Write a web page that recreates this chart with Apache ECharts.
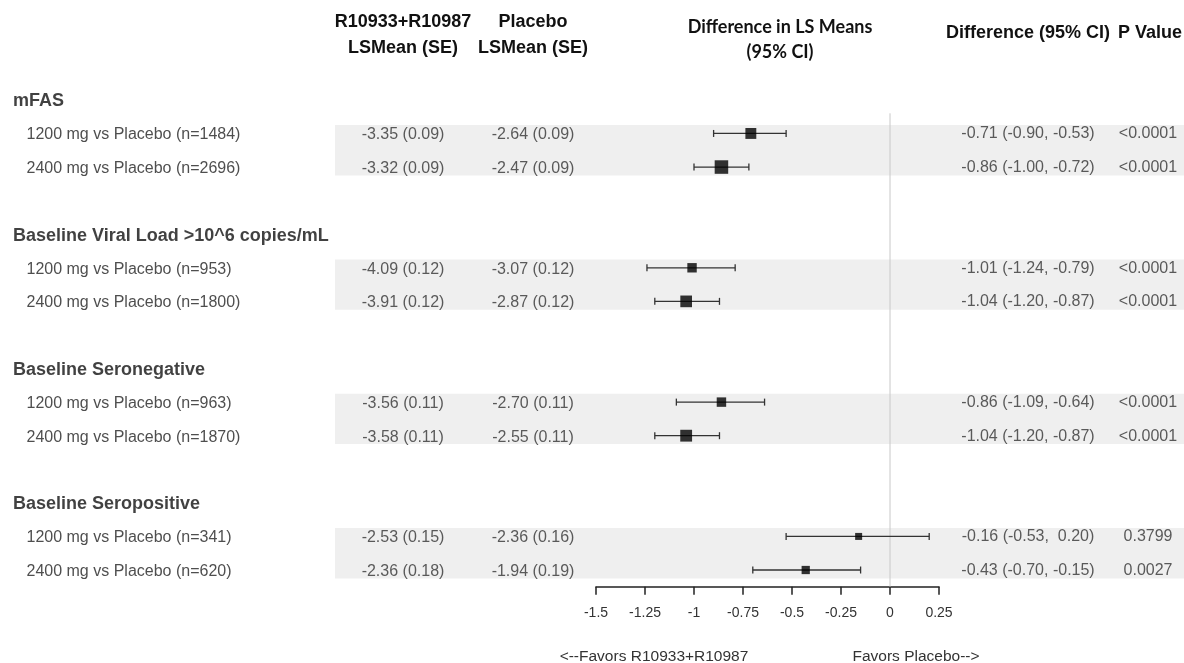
<!DOCTYPE html>
<html><head><meta charset="utf-8">
<script src="https://cdn.jsdelivr.net/npm/echarts@6/dist/echarts.min.js"></script>
<style>html,body{margin:0;padding:0;background:#fff}#c{width:1184px;height:663px}</style>
</head><body><div id="c"></div>
<script>
// ---------------- data ----------------
const groups = ['mFAS', 'Baseline Viral Load >10^6 copies/mL', 'Baseline Seronegative', 'Baseline Seropositive'];
const comparisons = ['1200 mg vs Placebo', '2400 mg vs Placebo', '1200 mg vs Placebo', '2400 mg vs Placebo',
                     '1200 mg vs Placebo', '2400 mg vs Placebo', '1200 mg vs Placebo', '2400 mg vs Placebo'];
const nValues = [1484, 2696, 953, 1800, 963, 1870, 341, 620];
const trtMean = [-3.35, -3.32, -4.09, -3.91, -3.56, -3.58, -2.53, -2.36];
const trtSE   = [0.09, 0.09, 0.12, 0.12, 0.11, 0.11, 0.15, 0.18];
const pboMean = [-2.64, -2.47, -3.07, -2.87, -2.70, -2.55, -2.36, -1.94];
const pboSE   = [0.09, 0.09, 0.12, 0.12, 0.11, 0.11, 0.16, 0.19];
const diffMean = [-0.71, -0.86, -1.01, -1.04, -0.86, -1.04, -0.16, -0.43];
const diffLow  = [-0.90, -1.00, -1.24, -1.20, -1.09, -1.20, -0.53, -0.70];
const diffHigh = [-0.53, -0.72, -0.79, -0.87, -0.64, -0.87, 0.20, -0.15];
const pValues = ['<0.0001', '<0.0001', '<0.0001', '<0.0001', '<0.0001', '<0.0001', '0.3799', '0.0027'];
const columnHeaders = [['R10933+R10987', 'LSMean (SE)'], ['Placebo', 'LSMean (SE)'],
                       ['Difference in LS Means', '(95% CI)'], ['Difference (95% CI)'], ['P Value']];
const favorsLabels = ['<--Favors R10933+R10987', 'Favors Placebo-->'];
const xMin = -1.5, xMax = 0.25, xStep = 0.25;

// ---------------- layout ----------------
const ARIAL = '"Liberation Sans", Arial, sans-serif';
const CALI = 'Lato, "Open Sans", sans-serif';
const TOP = 66.3, BOTTOM = 76.2, YMIN = -1, YMAX = 14.5;
const cols = [
  { left: 335, right: 0 },      // 0 background bands
  { left: 13, width: 300 },     // 1 labels
  { left: 353, width: 100 },    // 2 treatment LSMean
  { left: 483, width: 100 },    // 3 placebo LSMean
  { left: 596, width: 343 },    // 4 forest
  { left: 968, width: 120 },    // 5 difference text
  { left: 1113, width: 70 }     // 6 p value
];
const grid = cols.map(c => Object.assign({ top: TOP, bottom: BOTTOM, containLabel: false }, c));
const xAxis = cols.map((c, i) => i === 4 ? {
  type: 'value', gridIndex: 4, min: xMin, max: xMax, interval: xStep,
  axisLine: { show: true, onZero: false, lineStyle: { color: '#222', width: 1.5 } },
  axisTick: { show: true, length: 8, lineStyle: { color: '#222', width: 1.5 } },
  axisLabel: { margin: 19, fontSize: 14, color: '#333', fontFamily: ARIAL },
  splitLine: { show: false }
} : { type: 'value', gridIndex: i, min: 0, max: 1, show: false });
const yAxis = cols.map((c, i) => ({ type: 'value', gridIndex: i, min: YMIN, max: YMAX, inverse: true, show: false }));

// row slots
const rowSlot = i => Math.floor(i / 2) * 4 + 1 + (i % 2);
const headerSlot = g => g * 4;
const f2 = v => v.toFixed(2);

function textSeries(idx, items, align, extra) {
  return {
    type: 'scatter', xAxisIndex: idx, yAxisIndex: idx, symbolSize: 0, silent: true, z: 3,
    data: items.map(it => Object.assign({ value: [align === 'left' ? 0 : 0.5, it.slot], name: it.text }, it.opt || {})),
    label: Object.assign({
      show: true, position: align === 'left' ? 'right' : 'inside', distance: 0, formatter: '{b}',
      fontFamily: ARIAL, fontSize: 16, color: '#333', textBorderWidth: 0,
      align: align === 'left' ? 'left' : 'center', verticalAlign: 'middle', offset: [0, 1.5]
    }, extra || {})
  };
}

const labelItems = [];
groups.forEach((g, gi) => labelItems.push({
  slot: headerSlot(gi), text: g,
  opt: { label: { fontWeight: 'bold', fontSize: 18, color: '#111', offset: [0, 1.5] } }
}));
comparisons.forEach((c, i) => labelItems.push({
  slot: rowSlot(i), text: c + ' (n=' + nValues[i] + ')',
  opt: { label: { offset: [13.5, 1.5], color: '#222' } }
}));

const trtItems = trtMean.map((m, i) => ({ slot: rowSlot(i), text: f2(m) + ' (' + f2(trtSE[i]) + ')' }));
const pboItems = pboMean.map((m, i) => ({ slot: rowSlot(i), text: f2(m) + ' (' + f2(pboSE[i]) + ')' }));
const difItems = diffMean.map((m, i) => ({
  slot: rowSlot(i),
  text: f2(m) + ' (' + f2(diffLow[i]) + ', ' + (diffHigh[i] >= 0 ? ' ' : '') + f2(diffHigh[i]) + ')'
}));
const pItems = pValues.map((p, i) => ({ slot: rowSlot(i), text: p }));

const bandData = groups.map((g, gi) => [rowSlot(gi * 2), rowSlot(gi * 2 + 1)]);

const series = [
  {
    type: 'custom', xAxisIndex: 0, yAxisIndex: 0, z: 0, silent: true,
    data: bandData,
    renderItem: (params, api) => {
      const a = api.coord([0, api.value(0) - 0.25]);
      const b = api.coord([1, api.value(1) + 0.25]);
      return { type: 'rect', shape: { x: a[0], y: a[1], width: b[0] - a[0], height: b[1] - a[1] },
               style: { fill: '#efefef' } };
    }
  },
  textSeries(1, labelItems, 'left'),
  textSeries(2, trtItems, 'center'),
  textSeries(3, pboItems, 'center'),
  {
    type: 'line', xAxisIndex: 4, yAxisIndex: 4, z: 1, silent: true, symbol: 'none',
    data: [[0, 0.4], [0, YMAX]], lineStyle: { color: '#c8c8c8', width: 1 }
  },
  {
    type: 'custom', xAxisIndex: 4, yAxisIndex: 4, z: 4, silent: true,
    data: diffMean.map((m, i) => [m, rowSlot(i), diffLow[i], diffHigh[i]]),
    renderItem: (params, api) => {
      const y = api.value(1);
      const lo = api.coord([api.value(2), y]);
      const hi = api.coord([api.value(3), y]);
      const c = 3.5, st = { stroke: '#333', lineWidth: 1.3 };
      return { type: 'group', children: [
        { type: 'line', shape: { x1: lo[0], y1: lo[1], x2: hi[0], y2: hi[1] }, style: st },
        { type: 'line', shape: { x1: lo[0], y1: lo[1] - c, x2: lo[0], y2: lo[1] + c }, style: st },
        { type: 'line', shape: { x1: hi[0], y1: hi[1] - c, x2: hi[0], y2: hi[1] + c }, style: st }
      ] };
    }
  },
  {
    type: 'scatter', xAxisIndex: 4, yAxisIndex: 4, z: 5, silent: true, symbol: 'rect',
    data: diffMean.map((m, i) => [m, rowSlot(i), nValues[i]]),
    symbolSize: v => 3.4 + 0.195 * Math.sqrt(v[2]),
    itemStyle: { color: '#000' }
  },
  textSeries(5, difItems, 'center', { offset: [0, 0.5] }),
  textSeries(6, pItems, 'center', { offset: [0, 0.5] })
];

function gtext(x, y, text, font, fill) {
  return { type: 'text', x: x, y: y, silent: true,
           style: { text: text, font: font, fill: fill || '#111', align: 'center', verticalAlign: 'middle' } };
}
const HB = 'bold 18px ' + ARIAL;
const graphic = [
  gtext(403, 22.5, columnHeaders[0][0], HB), gtext(403, 48, columnHeaders[0][1], HB),
  gtext(533, 22.5, columnHeaders[1][0], HB), gtext(533, 48, columnHeaders[1][1], HB),
  gtext(780, 27, columnHeaders[2][0], 'bold 18px ' + CALI), gtext(780, 52, columnHeaders[2][1], 'bold 18px ' + CALI),
  gtext(1028, 33, columnHeaders[3][0], HB), gtext(1150, 33, columnHeaders[4][0], HB),
  gtext(654, 657, favorsLabels[0], '15.5px ' + ARIAL, '#333'),
  gtext(916, 657, favorsLabels[1], '15.5px ' + ARIAL, '#333')
];

const chart = echarts.init(document.getElementById('c'), null, { renderer: 'canvas' });
chart.setOption({ animation: false, backgroundColor: '#fff', grid, xAxis, yAxis, series, graphic });
</script></body></html>
